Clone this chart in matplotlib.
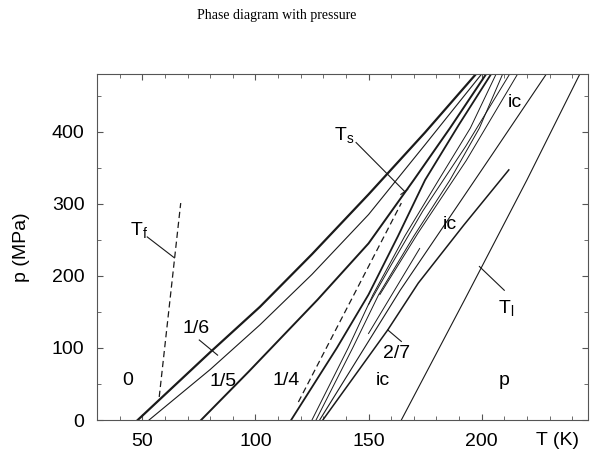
import numpy as np
import matplotlib.pyplot as plt
from matplotlib.ticker import MultipleLocator

plt.rcParams['font.family'] = ['Liberation Sans', 'DejaVu Sans']
plt.rcParams['mathtext.default'] = 'regular'

# phase boundaries, T in K and p in MPa
t_016 = [48, 80, 102, 125, 150, 175, 197.5]
p_016 = [0, 94, 157, 230, 313, 399, 480]
t_165 = [53, 80, 102, 125, 150, 175, 200]
p_165 = [0, 70, 132, 202, 285, 382, 480]
t_154 = [76, 97, 127.5, 150, 170, 186, 202]
p_154 = [0, 67, 167, 245, 333, 405, 480]
t_b0 = [115.8, 136, 150, 163, 175, 190, 204.2]
p_b0 = [0, 100, 174, 255, 333, 410, 480]
t_b1 = [125, 141, 152, 166, 181, 195, 206.4]
p_b1 = [0, 100, 174, 255, 333, 405, 480]
t_b2 = [126.8, 143, 154.5, 170, 186, 199, 209.3]
p_b2 = [0, 100, 174, 255, 333, 405, 480]
t_b3 = [150, 160, 174, 193, 212.4]
p_b3 = [160, 215, 290, 380, 480]
t_b4 = [155, 172, 193.2, 215.9]
p_b4 = [174, 260, 360, 480]
t_x1 = [128.4, 164, 183, 205, 228.6]
p_x1 = [0, 180, 268, 370, 480]
t_27 = [129.8, 158.5, 172, 192, 212]
p_27 = [0, 125, 190, 270, 347]
t_sh = [150, 172.6]
p_sh = [120, 238]
t_l = [164.5, 192.5, 220, 243.4]
p_l = [0, 167, 333, 480]
t_f = [57.5, 67]
p_f = [32, 301]
t_s = [119, 164.5]
p_s = [25, 301]

fig = plt.figure(figsize=(5.94, 4.53), dpi=100)
ax = fig.add_axes([0.1633, 0.0728, 0.8266, 0.7638])

c = '#1a1a1a'
ax.plot(t_016, p_016, color=c, lw=1.6)
ax.plot(t_165, p_165, color=c, lw=0.8)
ax.plot(t_154, p_154, color=c, lw=1.4)
ax.plot(t_b0, p_b0, color=c, lw=1.3)
ax.plot(t_b1, p_b1, color=c, lw=0.7)
ax.plot(t_b2, p_b2, color=c, lw=0.7)
ax.plot(t_b3, p_b3, color=c, lw=0.7)
ax.plot(t_b4, p_b4, color=c, lw=0.7)
ax.plot(t_x1, p_x1, color=c, lw=0.8)
ax.plot(t_27, p_27, color=c, lw=1.1)
ax.plot(t_sh, p_sh, color=c, lw=0.7)
ax.plot(t_l, p_l, color=c, lw=0.8)
ax.plot(t_f, p_f, color=c, lw=0.9, ls=(0, (5, 3)))
ax.plot(t_s, p_s, color=c, lw=0.9, ls=(0, (5, 3)))

fs = 14
ax.text(43.5, 55, '0', fontsize=fs, ha='center', va='center')
ax.text(73.7, 127, '1/6', fontsize=fs, ha='center', va='center')
ax.plot([75.2, 83.3], [111, 90], color=c, lw=0.8)
ax.text(85.5, 54, '1/5', fontsize=fs, ha='center', va='center')
ax.text(113.6, 55, '1/4', fontsize=fs, ha='center', va='center')
ax.text(156.3, 55, 'ic', fontsize=fs, ha='center', va='center')
ax.text(162.5, 92, '2/7', fontsize=fs, ha='center', va='center')
ax.plot([158.5, 164.5], [125, 109], color=c, lw=0.8)
ax.text(210, 55, 'p', fontsize=fs, ha='center', va='center')
ax.text(211, 155, '$T_l$', fontsize=fs, ha='center', va='center')
ax.plot([199, 210], [213, 180], color=c, lw=0.8)
ax.text(186, 271, 'ic', fontsize=fs, ha='center', va='center')
ax.text(214.5, 440, 'ic', fontsize=fs, ha='center', va='center')
ax.text(139.4, 396, '$T_s$', fontsize=fs, ha='center', va='center')
ax.plot([144.5, 166], [385, 317], color=c, lw=0.8)
ax.plot([164.3, 167.3], [313, 320], color=c, lw=0.8)
ax.text(48.7, 264, '$T_f$', fontsize=fs, ha='center', va='center')
ax.plot([52.2, 64.2], [254, 225], color=c, lw=0.8)

ax.set_xlim(30, 247)
ax.set_ylim(0, 480)
ax.xaxis.set_major_locator(MultipleLocator(50))
ax.xaxis.set_minor_locator(MultipleLocator(10))
ax.yaxis.set_major_locator(MultipleLocator(100))
ax.yaxis.set_minor_locator(MultipleLocator(50))
ax.tick_params(which='both', direction='in', top=True, right=True,
               labelsize=fs, color='#555555', pad=9)
ax.tick_params(which='major', length=4)
ax.tick_params(which='minor', length=3)
for s in ax.spines.values():
    s.set_color('#555555')
ax.set_ylabel('p (MPa)', fontsize=fs, labelpad=16)
ax.text(0.937, -0.058, 'T (K)', transform=ax.transAxes, fontsize=fs,
        ha='center', va='center')

fig.text(0.466, 0.965, 'Phase diagram with pressure', fontsize=10,
         family='Liberation Serif', ha='center', va='center')

fig.savefig('out.png', dpi=100)
